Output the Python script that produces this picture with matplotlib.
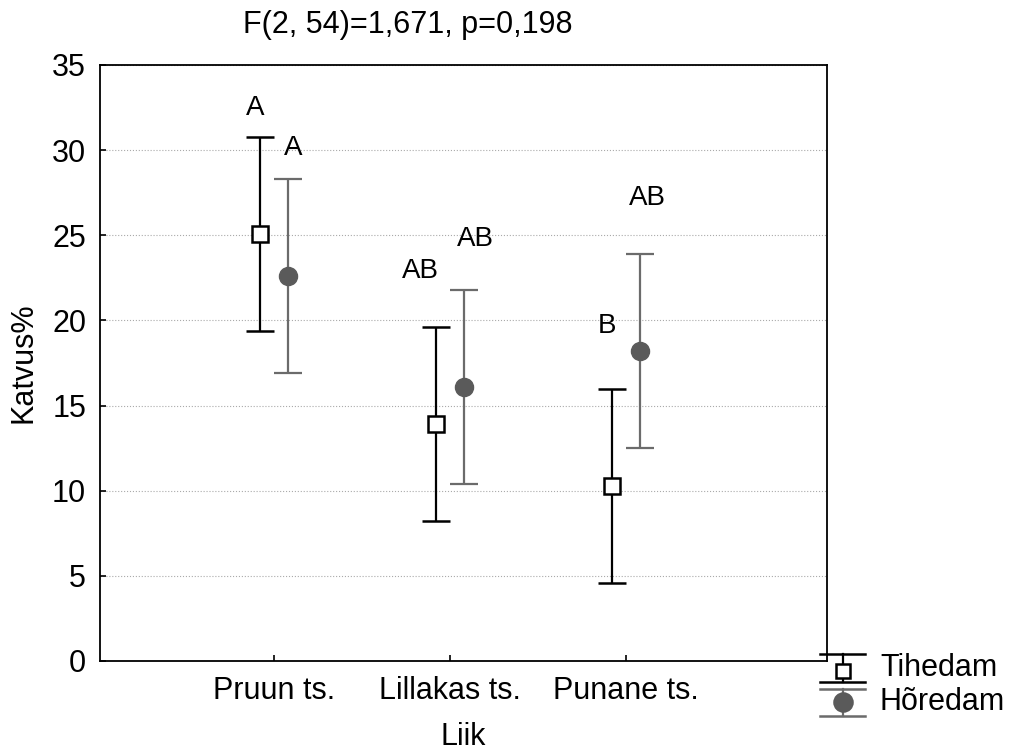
import numpy as np
import matplotlib
matplotlib.use("Agg")
import matplotlib.pyplot as plt
from matplotlib.lines import Line2D

plt.rcParams['font.family'] = ['Liberation Sans', 'DejaVu Sans']

# data
categories = ["Pruun ts.", "Lillakas ts.", "Punane ts."]
tihedam_mean = [25.1, 13.9, 10.3]
tihedam_low = [19.4, 8.2, 4.6]
tihedam_high = [30.8, 19.6, 16.0]
horedam_mean = [22.6, 16.1, 18.2]
horedam_low = [16.9, 10.4, 12.5]
horedam_high = [28.3, 21.8, 23.9]
tihedam_letters = ["A", "AB", "B"]
tihedam_letter_y = [32.5, 22.9, 19.7]
horedam_letters = ["A", "AB", "AB"]
horedam_letter_y = [30.1, 24.8, 27.2]

W, H = 1009, 751
FS = 22
BLACK = 'black'
GRAY = '#6b6b6b'

x = np.arange(len(categories))
off = 0.08
# small horizontal nudges for the letter labels
t_dx = [-0.03, -0.09, -0.03]
h_dx = [0.03, 0.06, 0.04]

fig = plt.figure(figsize=(W / 100, H / 100), dpi=100)
ax = fig.add_axes([100 / W, 1 - 661 / H, 727 / W, 596 / H])

t_mean = np.array(tihedam_mean)
h_mean = np.array(horedam_mean)
t_err = [t_mean - np.array(tihedam_low), np.array(tihedam_high) - t_mean]
h_err = [h_mean - np.array(horedam_low), np.array(horedam_high) - h_mean]

ax.errorbar(x - off, t_mean, yerr=t_err, fmt='s', color=BLACK,
            mfc='white', mec=BLACK, mew=1.8, ms=11, elinewidth=1.6,
            capsize=10, capthick=1.6, zorder=3)
ax.errorbar(x + off, h_mean, yerr=h_err, fmt='o', color=GRAY,
            mfc='#5a5a5a', mec='#5a5a5a', ms=13, elinewidth=1.6,
            capsize=10, capthick=1.6, zorder=3)

for i in range(len(categories)):
    ax.text(x[i] - off + t_dx[i], tihedam_letter_y[i], tihedam_letters[i],
            ha='center', va='center', fontsize=FS - 2)
    ax.text(x[i] + off + h_dx[i], horedam_letter_y[i], horedam_letters[i],
            ha='center', va='center', fontsize=FS - 2)

ax.set_xlim(-0.99, 3.14)
ax.set_ylim(0, 35)
ax.set_yticks(range(0, 36, 5))
ax.set_xticks(x)
ax.set_xticklabels(categories)
ax.tick_params(direction='in', length=4, width=1.2, labelsize=FS)
ax.tick_params(axis='x', pad=11)
ax.tick_params(axis='y', pad=10)
ax.yaxis.grid(True, linestyle=':', color='#aaaaaa', linewidth=0.8)
ax.set_axisbelow(True)
for s in ax.spines.values():
    s.set_linewidth(1.3)

ax.set_xlabel("Liik", fontsize=FS, labelpad=11)
ax.set_ylabel("Katvus%", fontsize=FS, labelpad=10)

fig.text(408 / W, 1 - 25 / H, "F(2, 54)=1,671, p=0,198",
         ha='center', va='center', fontsize=FS)


# legend drawn in figure pixel coordinates (Statistica style)
def fx(px):
    return px / W


def fy(py):
    return 1 - py / H


def legend_entry(top, mid, bot, color, marker, mfc, ms, label):
    for yy in (top, bot):
        fig.add_artist(Line2D([fx(820), fx(865)], [fy(yy), fy(yy)],
                              color=color, lw=1.8, transform=fig.transFigure))
    fig.add_artist(Line2D([fx(843), fx(843)], [fy(top), fy(bot)],
                          color=color, lw=1.6, transform=fig.transFigure))
    fig.add_artist(Line2D([fx(843)], [fy(mid)], marker=marker, ms=ms,
                          mfc=mfc, mec=color if mfc == 'white' else mfc,
                          mew=1.8, transform=fig.transFigure))
    fig.text(fx(880), fy((top + bot) / 2), label, ha='left', va='center',
             fontsize=FS)


legend_entry(654, 671, 682, BLACK, 's', 'white', 10, "Tihedam")
legend_entry(689, 702, 716, GRAY, 'o', '#5a5a5a', 13, "Hõredam")

fig.savefig("out.png", dpi=100)
